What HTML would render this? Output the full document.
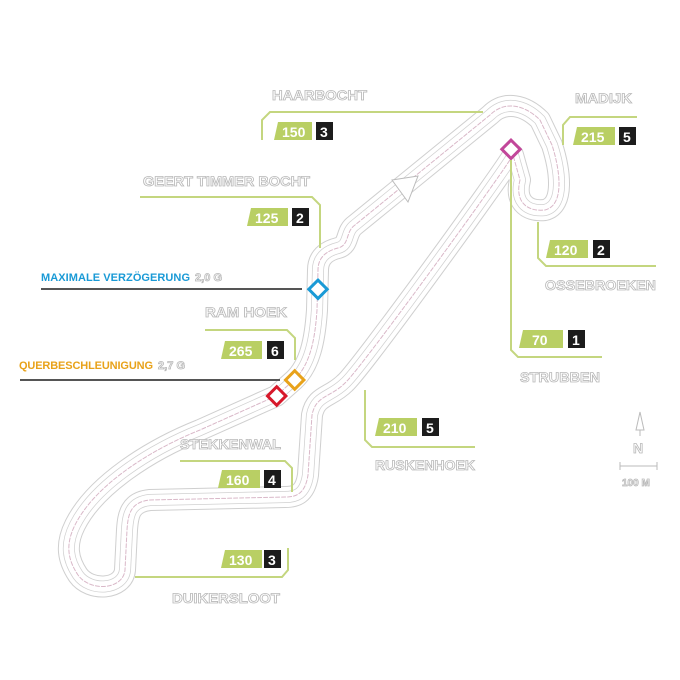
<!DOCTYPE html>
<html><head><meta charset="utf-8"><style>
html,body{margin:0;padding:0;background:#fff;}
svg{display:block;}
.nm{font-family:"Liberation Sans",sans-serif;font-weight:bold;font-size:14px;fill:#fff;stroke:#b8b8b8;stroke-width:0.8;}
.num{font-family:"Liberation Sans",sans-serif;font-weight:bold;font-size:14px;fill:#fff;}
.g{fill:#b9cf64;}
.k{fill:#1c1c1c;}
.br{fill:none;stroke:#c4d67f;stroke-width:2;}
</style></head><body>
<svg width="680" height="680" viewBox="0 0 680 680">
<defs>
<path id="t" d="M276,396 L294,380 C310,365 315,340 317,310 L318,270 C318,255 330,250 338,248 C350,245 345,232 355,225 L490,115 C505,100 525,105 540,120 L552,145 C560,170 565,205 545,210 C525,212 515,200 520,180 L513,155 C505,170 360,370 345,383 C330,398 316,395 312,415 L308,475 C305,495 295,497 285,497 L150,500 C130,502 128,515 127,530 L125,570 C123,590 90,592 78,575 C68,560 65,545 75,525 C95,485 150,450 200,430 Z"/>
</defs>
<rect width="680" height="680" fill="#fff"/>
<g fill="none" stroke-linejoin="round" stroke-linecap="round">
<use href="#t" stroke="#cfcfcf" stroke-width="22"/>
<use href="#t" stroke="#fff" stroke-width="20"/>
<use href="#t" stroke="#d0d0d0" stroke-width="12"/>
<use href="#t" stroke="#fff" stroke-width="10.5"/>
<use href="#t" stroke="#d9b8c8" stroke-width="1" stroke-dasharray="4 2"/>
</g>
<path d="M392,180 L418,176 L408,202 Z" fill="#fff" stroke="#bbb" stroke-width="1"/>
<rect x="311" y="283" width="13" height="13" transform="rotate(45 318 290)" fill="#fff" stroke="#1a9ad6" stroke-width="3"/>
<rect x="288" y="373" width="13" height="13" transform="rotate(45 294 380)" fill="#fff" stroke="#e8a21a" stroke-width="3"/>
<rect x="270" y="389" width="13" height="13" transform="rotate(45 276 396)" fill="#fff" stroke="#d7182a" stroke-width="3"/>
<rect x="504" y="143" width="13" height="13" transform="rotate(45 511 150)" fill="#fff" stroke="#c2479a" stroke-width="3"/>
<path class="br" d="M262,140 V120 L270,112 H483"/>
<path class="br" d="M563,145 V125 L570,117 H637"/>
<path class="br" d="M140,197 H312 L320,205 V248"/>
<path class="br" d="M538,222 V258 L546,266 H656"/>
<path class="br" d="M511,160 V350 L518,357 H602"/>
<path class="br" d="M205,330 H287 L295,338 V360"/>
<path class="br" d="M180,461 H285 L292,468 V492"/>
<path class="br" d="M365,390 V440 L372,447 H475"/>
<path class="br" d="M288,548 V570 L282,577 H135"/>
<line x1="41" y1="289" x2="302" y2="289" stroke="#555" stroke-width="2"/>
<line x1="20" y1="380" x2="280" y2="380" stroke="#555" stroke-width="2"/>
<text x="41" y="281" font-family="Liberation Sans" font-weight="bold" font-size="11" fill="#1a9ad6" textLength="149" lengthAdjust="spacing">MAXIMALE VERZÖGERUNG</text>
<text class="nm" x="195" y="281" style="font-size:11px" textLength="27" lengthAdjust="spacing">2,0 G</text>
<text x="19" y="369" font-family="Liberation Sans" font-weight="bold" font-size="11" fill="#e8a21a" textLength="134" lengthAdjust="spacing">QUERBESCHLEUNIGUNG</text>
<text class="nm" x="158" y="369" style="font-size:11px" textLength="27" lengthAdjust="spacing">2,7 G</text>
<text class="nm" x="272" y="100" textLength="95" lengthAdjust="spacingAndGlyphs">HAARBOCHT</text>
<text class="nm" x="575" y="103" textLength="57" lengthAdjust="spacingAndGlyphs">MADIJK</text>
<text class="nm" x="143" y="186" textLength="167" lengthAdjust="spacingAndGlyphs">GEERT TIMMER BOCHT</text>
<text class="nm" x="545" y="290" textLength="111" lengthAdjust="spacingAndGlyphs">OSSEBROEKEN</text>
<text class="nm" x="520" y="382" textLength="80" lengthAdjust="spacingAndGlyphs">STRUBBEN</text>
<text class="nm" x="205" y="317" textLength="82" lengthAdjust="spacingAndGlyphs">RAM HOEK</text>
<text class="nm" x="180" y="449" textLength="101" lengthAdjust="spacingAndGlyphs">STEKKENWAL</text>
<text class="nm" x="375" y="470" textLength="100" lengthAdjust="spacingAndGlyphs">RUSKENHOEK</text>
<text class="nm" x="172" y="603" textLength="108" lengthAdjust="spacingAndGlyphs">DUIKERSLOOT</text>
<g>
<polygon class="g" points="278,122 312,122 312,140 274,140"/><text class="num" x="282" y="137">150</text><rect class="k" x="316" y="122" width="17" height="18"/><text class="num" x="320" y="137">3</text>
<polygon class="g" points="577,127 615,127 615,145 573,145"/><text class="num" x="581" y="142">215</text><rect class="k" x="619" y="127" width="17" height="18"/><text class="num" x="623" y="142">5</text>
<polygon class="g" points="251,208 288,208 288,226 247,226"/><text class="num" x="255" y="223">125</text><rect class="k" x="292" y="208" width="17" height="18"/><text class="num" x="296" y="223">2</text>
<polygon class="g" points="550,240 588,240 588,258 546,258"/><text class="num" x="554" y="255">120</text><rect class="k" x="593" y="240" width="17" height="18"/><text class="num" x="597" y="255">2</text>
<polygon class="g" points="523,330 563,330 563,348 519,348"/><text class="num" x="532" y="345">70</text><rect class="k" x="568" y="330" width="17" height="18"/><text class="num" x="572" y="345">1</text>
<polygon class="g" points="225,341 262,341 262,359 221,359"/><text class="num" x="229" y="356">265</text><rect class="k" x="267" y="341" width="17" height="18"/><text class="num" x="271" y="356">6</text>
<polygon class="g" points="222,470 260,470 260,488 218,488"/><text class="num" x="226" y="485">160</text><rect class="k" x="264" y="470" width="17" height="18"/><text class="num" x="268" y="485">4</text>
<polygon class="g" points="379,418 417,418 417,436 375,436"/><text class="num" x="383" y="433">210</text><rect class="k" x="422" y="418" width="17" height="18"/><text class="num" x="426" y="433">5</text>
<polygon class="g" points="225,550 262,550 262,568 221,568"/><text class="num" x="229" y="565">130</text><rect class="k" x="264" y="550" width="17" height="18"/><text class="num" x="268" y="565">3</text>
</g>
<g fill="#fff" stroke="#bbb" stroke-width="1">
<path d="M640,412 L636,430 L644,430 Z"/>
<line x1="640" y1="430" x2="640" y2="436"/>
<line x1="620" y1="466" x2="657" y2="466"/>
<line x1="620" y1="462" x2="620" y2="470"/><line x1="657" y1="462" x2="657" y2="470"/>
</g>
<text class="nm" x="633" y="453" style="font-size:14px">N</text>
<text class="nm" x="622" y="486" style="font-size:10px">100 M</text>
</svg>
</body></html>
